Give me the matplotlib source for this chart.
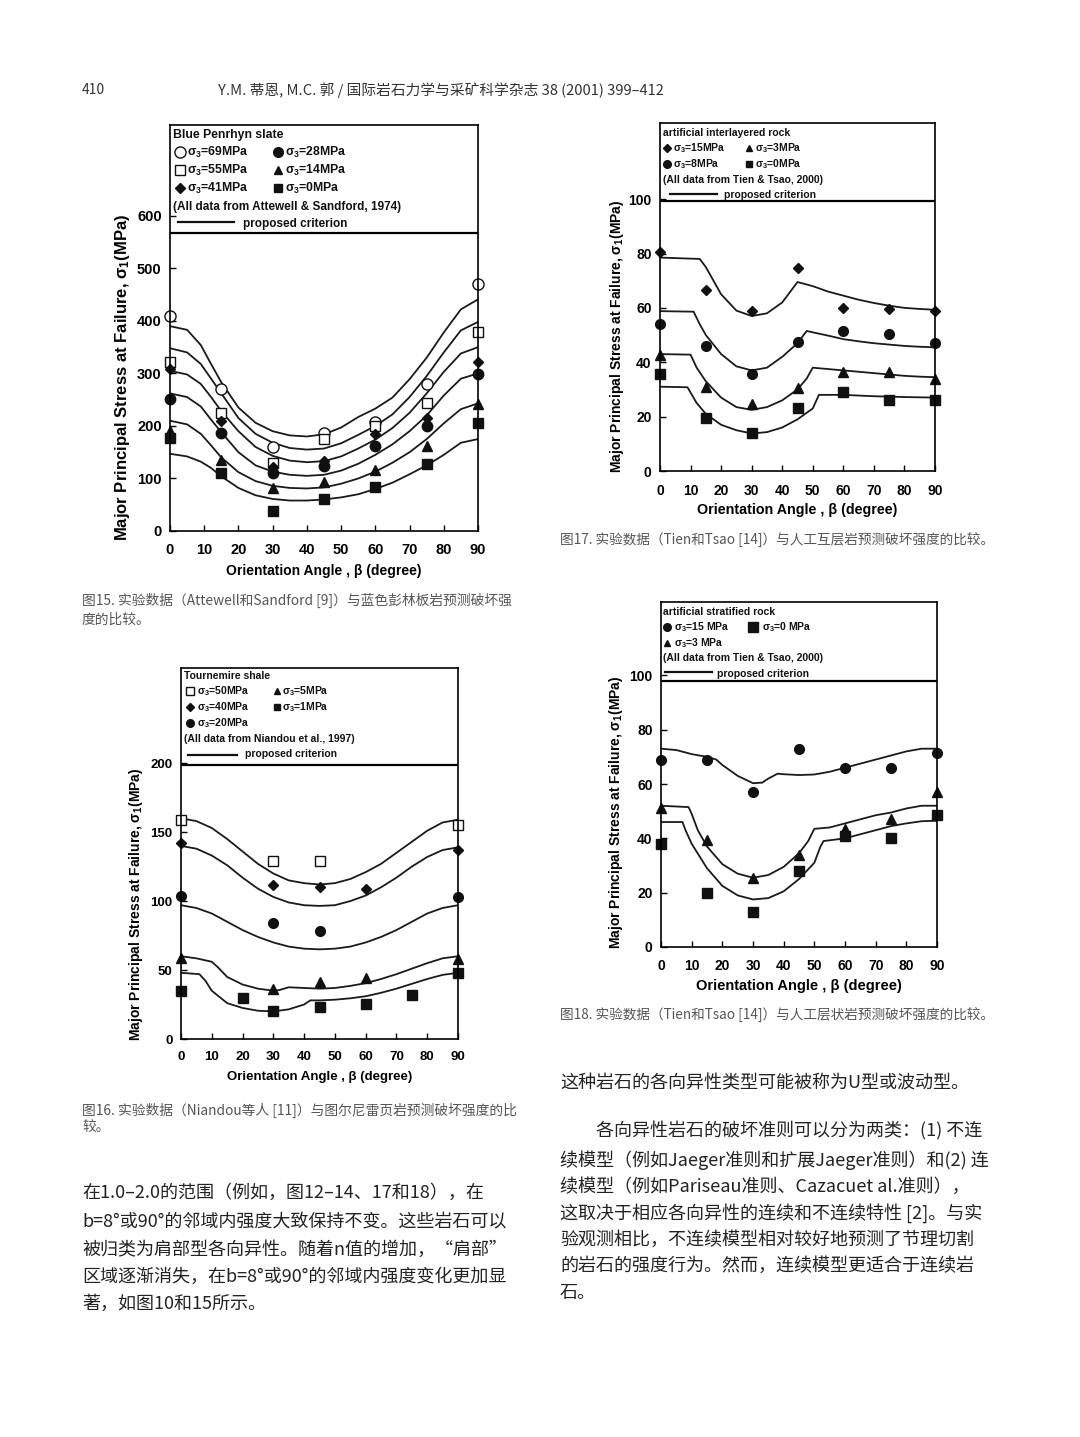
import matplotlib
matplotlib.use("Agg")
import matplotlib.pyplot as plt
from matplotlib.lines import Line2D

plt.rcParams['font.family'] = ['Liberation Sans', 'DejaVu Sans']
plt.rcParams['mathtext.default'] = 'regular'

W, H = 1080, 1437
CJK = ['Noto Sans CJK SC', 'DejaVu Sans']

# ---------------- data ----------------
ang = [0, 15, 30, 45, 60, 75, 90]

# Fig.15  Blue Penrhyn slate
p15_69 = [409, 271, 160, 187, 208, 279, 470]
p15_55 = [322, 224, 130, 175, 200, 243, 379]
p15_41 = [308, 209, 121, 133, 184, 216, 321]
p15_28 = [252, 187, 110, 124, 162, 199, 298]
p15_14 = [190, 135, 82, 93, 117, 162, 241]
p15_0 = [178, 110, 38, 60, 84, 127, 205]
cx15 = [0, 5, 9, 12, 15, 20, 25, 30, 35, 40, 45, 50, 55, 60, 65, 70, 75, 80, 85, 90]
c15_1 = [390, 383, 354, 318, 283, 235, 206, 190, 182, 180, 184, 197, 217, 233, 254, 289, 330, 378, 422, 441]
c15_2 = [348, 340, 318, 290, 262, 215, 185, 168, 158, 155, 157, 167, 183, 200, 222, 255, 295, 340, 382, 398]
c15_3 = [305, 298, 280, 255, 228, 190, 160, 143, 134, 131, 133, 142, 157, 174, 196, 225, 262, 303, 338, 350]
c15_4 = [262, 255, 237, 212, 188, 150, 125, 113, 107, 105, 107, 115, 128, 145, 165, 190, 220, 258, 290, 300]
c15_5 = [210, 203, 185, 163, 140, 112, 95, 86, 82, 81, 83, 90, 100, 113, 130, 150, 175, 205, 232, 243]
c15_6 = [147, 142, 132, 120, 104, 82, 68, 61, 58, 58, 60, 64, 70, 80, 92, 108, 125, 145, 168, 175]

# Fig.16  Tournemire shale
a16_50 = [0, 30, 45, 90]
p16_50 = [159, 129, 129, 155]
a16_40 = [0, 30, 45, 60, 90]
p16_40 = [142, 112, 110, 109, 137]
a16_20 = [0, 30, 45, 90]
p16_20 = [104, 84, 78, 103]
a16_5 = [0, 30, 45, 60, 90]
p16_5 = [59, 36, 41, 44, 58]
a16_1 = [0, 20, 30, 45, 60, 75, 90]
p16_1 = [35, 29.5, 20.5, 23.5, 25.5, 32, 47.5]
cx16 = [0, 5, 10, 15, 20, 25, 30, 35, 40, 45, 50, 55, 60, 65, 70, 75, 80, 85, 90]
c16_1 = [160, 158, 153, 145, 136, 127, 120, 115, 113, 112, 113, 116, 121, 127, 135, 143, 151, 157, 159]
c16_2 = [140, 138, 133, 126, 117, 109, 103, 99, 97, 96.5, 97, 100, 104, 110, 117, 125, 132, 137, 139]
c16_3 = [97, 95, 91, 85, 79, 74, 70, 67, 65.5, 65, 65.5, 67, 70, 74, 79, 85, 91, 95, 97]
cx16_4 = [0, 5, 10, 12, 15, 20, 25, 30, 32, 35, 40, 45, 50, 55, 60, 65, 70, 75, 80, 85, 90]
c16_4 = [60, 58.5, 56, 52, 45, 39.5, 36.5, 35, 35.5, 37.5, 37, 36.5, 37, 38.5, 40.5, 43.5, 47, 51, 55, 58.5, 60]
cx16_5 = [0, 6, 8, 10, 15, 20, 25, 30, 35, 40, 42, 45, 50, 55, 60, 65, 70, 75, 80, 85, 90]
c16_5 = [48, 47, 42, 35, 26, 22.5, 20.5, 20, 21.5, 25, 28, 28, 28.5, 29.5, 31, 33.5, 36.5, 40, 43.5, 46.5, 48]

# Fig.17  artificial interlayered rock
p17_15 = [80.5, 66.5, 59, 74.5, 60, 59.5, 59]
p17_8 = [54, 46, 35.5, 47.5, 51.5, 50.5, 47]
p17_3 = [42.5, 31, 24.5, 30.5, 36.5, 36.5, 34]
p17_0 = [35.5, 19.5, 14, 23, 29, 26, 26]
cx17_1 = [0, 13, 15, 18, 20, 25, 30, 35, 40, 44, 45, 50, 55, 60, 65, 70, 75, 80, 85, 90]
c17_1 = [78.5, 78, 75, 69, 65, 59, 57, 58, 62, 68, 69.5, 68, 66, 64.5, 63, 61.8, 60.8, 60, 59.6, 59.3]
cx17_2 = [0, 11, 13, 15, 20, 25, 30, 35, 40, 45, 48, 50, 55, 60, 65, 70, 75, 80, 85, 90]
c17_2 = [58.8, 58.6, 54, 50, 43, 38.5, 37, 38, 42, 47, 51.5, 51, 49.8, 48.5, 47.7, 47, 46.5, 46, 45.7, 45.5]
cx17_3 = [0, 10, 12, 15, 20, 25, 30, 35, 40, 45, 48, 50, 55, 60, 65, 70, 75, 80, 85, 90]
c17_3 = [43, 42.8, 38, 33, 27, 23.5, 22.5, 23.5, 26, 30, 34, 38, 37.5, 37, 36.5, 36, 35.5, 35, 34.7, 34.5]
cx17_4 = [0, 9, 12, 15, 20, 25, 30, 35, 40, 45, 50, 52, 60, 70, 80, 90]
c17_4 = [31, 30.8, 25, 21, 17, 15, 13.8, 14.3, 16, 19, 23, 28, 28, 27.5, 27.2, 27]

# Fig.18  artificial stratified rock
p18_15 = [69, 69, 57, 73, 66, 66, 71.5]
p18_3 = [51, 39.5, 25.5, 34, 43.5, 47, 57]
p18_0 = [38, 20, 13, 28, 41, 40, 48.5]
cx18_1 = [0, 5, 10, 15, 18, 20, 25, 30, 33, 35, 38, 40, 45, 50, 55, 60, 65, 70, 75, 80, 85, 90]
c18_1 = [73, 72.5, 71, 70, 69, 67, 63, 60.3, 60.5, 62, 63.8, 63.6, 63.3, 63.5, 64.5, 66, 67.5, 69, 70.5, 72, 73, 73]
cx18_2 = [0, 9, 10, 12, 15, 20, 25, 30, 35, 40, 45, 48, 50, 55, 60, 65, 70, 75, 80, 85, 90]
c18_2 = [52, 51.5, 49, 43, 37, 30.5, 27, 25.5, 26.5, 29.5, 34.5, 39, 43.5, 44, 45.5, 47, 48.5, 49.5, 51, 52, 52]
cx18_3 = [0, 7, 8, 10, 15, 20, 25, 30, 35, 40, 45, 50, 52, 53, 60, 65, 70, 75, 80, 85, 90]
c18_3 = [46, 46, 43, 38, 29, 22.5, 19, 17.5, 18, 20.5, 25, 31, 37, 39, 40, 41.5, 43, 44.5, 45.5, 46.3, 46.5]

xticks = [0, 10, 20, 30, 40, 50, 60, 70, 80, 90]
ylab = 'Major Principal Stress at Failure, σ$_1$(MPa)'
xlab = 'Orientation Angle , β (degree)'

fig = plt.figure(figsize=(W / 100, H / 100), dpi=100)


def fx(x):
    return x / W


def fy(y):
    return 1 - y / H


def make_ax(l, t, r, b, ytop, ysep, yticks, tfs, yfs, xfs, ylx, yly, xly):
    ax = fig.add_axes([fx(l), fy(b), (r - l) / W, (b - t) / H])
    ax.set_xlim(0, 90)
    ax.set_ylim(0, ytop)
    ax.set_xticks(xticks)
    ax.set_yticks(yticks)
    ax.tick_params(direction='in', length=4, width=1, labelsize=tfs)
    ax.tick_params(axis='x', pad=9)
    ax.tick_params(axis='y', pad=6)
    for lab in ax.get_xticklabels() + ax.get_yticklabels():
        lab.set_fontweight('bold')
    for sp in ax.spines.values():
        sp.set_linewidth(1.2)
    ax.axhline(ysep, color='k', lw=1.6)
    ax.set_ylabel(ylab, fontsize=yfs, fontweight='bold')
    ax.set_xlabel(xlab, fontsize=xfs, fontweight='bold')
    ax.yaxis.set_label_coords((ylx - l) / (r - l), (b - yly) / (b - t))
    ax.yaxis.label.set_va('center')
    ax.xaxis.set_label_coords(0.5, (b - xly) / (b - t))
    ax.xaxis.label.set_va('center')
    return ax


def pts(ax, x, y, m, fill, ms):
    ax.plot(x, y, ls='none', marker=m, ms=ms, mfc=fill, mec='#111', mew=1.0, clip_on=False)


def curve(ax, x, y):
    ax.plot(x, y, color='#1a1a1a', lw=1.3)


def ltext(x, y, s, fs):
    fig.text(fx(x), fy(y), s, fontsize=fs, fontweight='bold', va='center', ha='left', color='#111')


def lmark(x, y, m, fill, ms):
    fig.add_artist(Line2D([fx(x)], [fy(y)], marker=m, ms=ms, mfc=fill, mec='#111', mew=1.0,
                          ls='none', transform=fig.transFigure))


def lline(x1, x2, y):
    fig.add_artist(Line2D([fx(x1), fx(x2)], [fy(y), fy(y)], color='#111', lw=1.6,
                          transform=fig.transFigure))


# ---- Fig 15 ----
ax = make_ax(170, 125, 478, 531, 773, 567, [0, 100, 200, 300, 400, 500, 600],
             10.5, 12, 10, 123, 377, 571)
for c in (c15_1, c15_2, c15_3, c15_4, c15_5, c15_6):
    curve(ax, cx15, c)
pts(ax, ang, p15_69, 'o', 'white', 8)
pts(ax, ang, p15_55, 's', 'white', 7.5)
pts(ax, ang, p15_41, 'D', '#111', 5.5)
pts(ax, ang, p15_28, 'o', '#111', 7.5)
pts(ax, ang, p15_14, '^', '#111', 6.5)
pts(ax, ang, p15_0, 's', '#111', 7)
fs = 8.8
ltext(173, 135, 'Blue Penrhyn slate', fs)
lmark(180, 152, 'o', 'white', 8)
ltext(187, 152, 'σ$_3$=69MPa', fs)
lmark(278, 152, 'o', '#111', 7)
ltext(285, 152, 'σ$_3$=28MPa', fs)
lmark(180, 170, 's', 'white', 7.5)
ltext(187, 170, 'σ$_3$=55MPa', fs)
lmark(278, 170, '^', '#111', 5.5)
ltext(285, 170, 'σ$_3$=14MPa', fs)
lmark(180, 188, 'D', '#111', 5)
ltext(187, 188, 'σ$_3$=41MPa', fs)
lmark(278, 188, 's', '#111', 6)
ltext(285, 188, 'σ$_3$=0MPa', fs)
ltext(173, 207, '(All data from Attewell & Sandford, 1974)', 8.5)
lline(178, 234, 222)
ltext(243, 224, 'proposed criterion', 8.5)

# ---- Fig 17 ----
ax = make_ax(660, 123, 935, 471, 128, 99.3, [0, 20, 40, 60, 80, 100],
             10, 10, 10.3, 617, 336, 510)
for cx, c in ((cx17_1, c17_1), (cx17_2, c17_2), (cx17_3, c17_3), (cx17_4, c17_4)):
    curve(ax, cx, c)
pts(ax, ang, p17_15, 'D', '#111', 5)
pts(ax, ang, p17_8, 'o', '#111', 7)
pts(ax, ang, p17_3, '^', '#111', 6.5)
pts(ax, ang, p17_0, 's', '#111', 7)
fs = 7.5
ltext(663, 133, 'artificial interlayered rock', fs)
lmark(667, 148, 'D', '#111', 4)
ltext(673, 148, 'σ$_3$=15MPa', fs)
lmark(749, 148, '^', '#111', 5)
ltext(755, 148, 'σ$_3$=3MPa', fs)
lmark(667, 164, 'o', '#111', 5.5)
ltext(673, 164, 'σ$_3$=8MPa', fs)
lmark(749, 164, 's', '#111', 5)
ltext(755, 164, 'σ$_3$=0MPa', fs)
ltext(663, 180, '(All data from Tien & Tsao, 2000)', fs)
lline(670, 717, 194)
ltext(724, 195, 'proposed criterion', fs)

# ---- Fig 16 ----
ax = make_ax(181, 668, 458, 1039, 269, 198.6, [0, 50, 100, 150, 200],
             9.5, 10, 9.5, 136, 904, 1077)
curve(ax, cx16, c16_1)
curve(ax, cx16, c16_2)
curve(ax, cx16, c16_3)
curve(ax, cx16_4, c16_4)
curve(ax, cx16_5, c16_5)
pts(ax, a16_50, p16_50, 's', 'white', 7.5)
pts(ax, a16_40, p16_40, 'D', '#111', 5)
pts(ax, a16_20, p16_20, 'o', '#111', 7)
pts(ax, a16_5, p16_5, '^', '#111', 6.5)
pts(ax, a16_1, p16_1, 's', '#111', 7)
fs = 7.5
ltext(184, 676, 'Tournemire shale', fs)
lmark(190, 691, 's', 'white', 6)
ltext(197, 691, 'σ$_3$=50MPa', fs)
lmark(277, 691, '^', '#111', 4.5)
ltext(282, 691, 'σ$_3$=5MPa', fs)
lmark(190, 707, 'D', '#111', 4)
ltext(197, 707, 'σ$_3$=40MPa', fs)
lmark(277, 707, 's', '#111', 5)
ltext(282, 707, 'σ$_3$=1MPa', fs)
lmark(190, 723, 'o', '#111', 5.5)
ltext(197, 723, 'σ$_3$=20MPa', fs)
ltext(184, 739, '(All data from Niandou et al., 1997)', fs)
lline(188, 237, 755)
ltext(245, 754, 'proposed criterion', fs)

# ---- Fig 18 ----
ax = make_ax(661, 602, 937, 947, 127, 97.8, [0, 20, 40, 60, 80, 100],
             10, 10, 10.5, 616, 812, 986)
for cx, c in ((cx18_1, c18_1), (cx18_2, c18_2), (cx18_3, c18_3)):
    curve(ax, cx, c)
pts(ax, ang, p18_15, 'o', '#111', 7)
pts(ax, ang, p18_3, '^', '#111', 6.5)
pts(ax, ang, p18_0, 's', '#111', 7.5)
fs = 7.5
ltext(663, 612, 'artificial stratified rock', fs)
lmark(667, 627, 'o', '#111', 5.5)
ltext(674, 627, 'σ$_3$=15 MPa', fs)
lmark(753, 627, 's', '#111', 7)
ltext(762, 627, 'σ$_3$=0 MPa', fs)
lmark(667, 643, '^', '#111', 5)
ltext(674, 643, 'σ$_3$=3 MPa', fs)
ltext(663, 658, '(All data from Tien & Tsao, 2000)', fs)
lline(665, 712, 672)
ltext(717, 674, 'proposed criterion', fs)


# ---------------- page text ----------------
def ptext(x, y, s, fs, color='#222'):
    fig.text(fx(x), fy(y), s, fontsize=fs, family=CJK, va='center', ha='left', color=color)


ptext(82, 90, '410', 10, '#333')
ptext(218, 90, 'Y.M. 蒂恩, M.C. 郭 / 国际岩石力学与采矿科学杂志 38 (2001) 399–412', 10.6, '#333')

cap = '#555'
ptext(82, 600, '图15. 实验数据（Attewell和Sandford [9]）与蓝色彭林板岩预测破坏强', 9.9, cap)
ptext(82, 620, '度的比较。', 9.9, cap)
ptext(560, 540, '图17. 实验数据（Tien和Tsao [14]）与人工互层岩预测破坏强度的比较。', 9.8, cap)
ptext(560, 1015, '图18. 实验数据（Tien和Tsao [14]）与人工层状岩预测破坏强度的比较。', 9.8, cap)
ptext(82, 1110, '图16. 实验数据（Niandou等人 [11]）与图尔尼雷页岩预测破坏强度的比', 9.9, cap)
ptext(82, 1128, '较。', 9.9, cap)

left_lines = [
    '在1.0–2.0的范围（例如，图12–14、17和18），在',
    'b=8°或90°的邻域内强度大致保持不变。这些岩石可以',
    '被归类为肩部型各向异性。随着n值的增加，“肩部”',
    '区域逐渐消失，在b=8°或90°的邻域内强度变化更加显',
    '著，如图10和15所示。',
]
left_y = [1193, 1221, 1250, 1277, 1304]
for s, y in zip(left_lines, left_y):
    ptext(82, y, s, 13)

ptext(560, 1083, '这种岩石的各向异性类型可能被称为U型或波动型。', 13)
right_lines = [
    '各向异性岩石的破坏准则可以分为两类：(1) 不连',
    '续模型（例如Jaeger准则和扩展Jaeger准则）和(2) 连',
    '续模型（例如Pariseau准则、Cazacuet al.准则），',
    '这取决于相应各向异性的连续和不连续特性 [2]。与实',
    '验观测相比，不连续模型相对较好地预测了节理切割',
    '的岩石的强度行为。然而，连续模型更适合于连续岩',
    '石。',
]
right_y = [1131, 1160, 1187, 1213, 1240, 1266, 1293]
right_x = [596, 560, 560, 560, 560, 560, 560]
for s, x, y in zip(right_lines, right_x, right_y):
    ptext(x, y, s, 13)

fig.savefig('out.png', dpi=100, facecolor='white')
